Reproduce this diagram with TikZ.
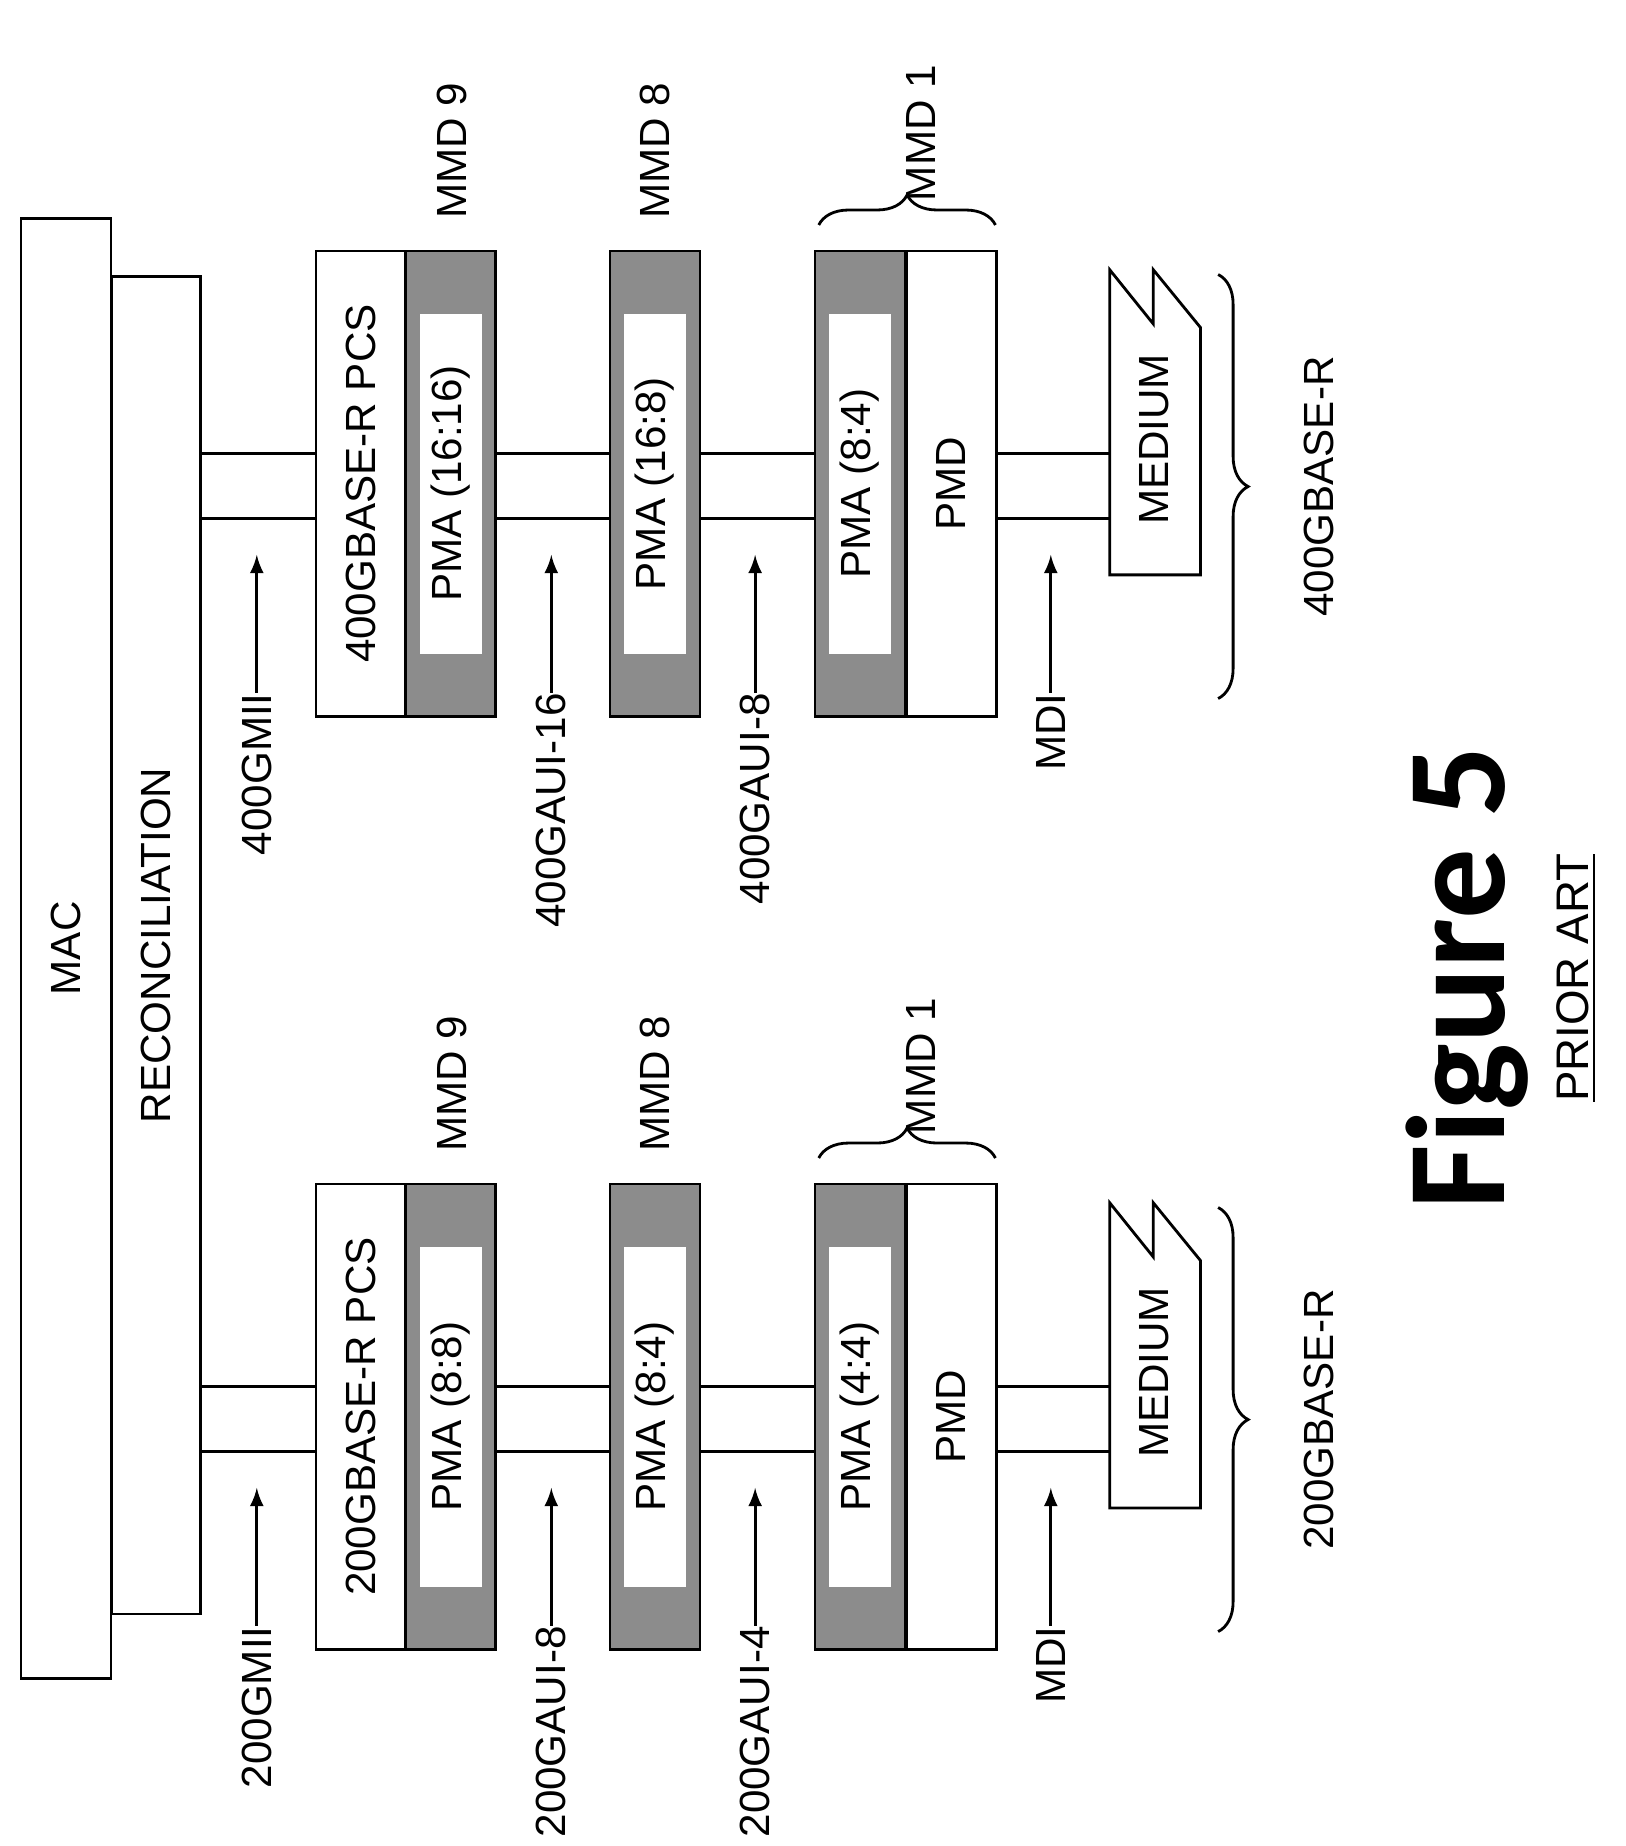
\documentclass[tikz,border=0pt]{standalone}
\usepackage{fontspec}
\setmainfont{Liberation Sans}
\newfontfamily\figfont{Carlito}
\usetikzlibrary{positioning,calc,decorations.pathreplacing}
\definecolor{pmagray}{gray}{0.55}
\tikzset{
  basic/.style  = {draw, thick, inner sep=0pt, font=\fontsize{12}{14}\selectfont},
  layer/.style  = {basic, minimum width=0.9cm, minimum height=4.65cm},
  dark/.style   = {layer, fill=pmagray},
  tag/.style    = {fill=white, inner sep=0pt, minimum width=0.62cm, minimum height=3.4cm,
                   font=\fontsize{12}{14}\selectfont},
  side/.style   = {inner sep=0pt, font=\fontsize{12}{14}\selectfont},
  bus/.style    = {thick},
  up/.style     = {thick, -latex},
  curly/.style  = {thick, decorate, decoration={brace, amplitude=0.3cm}}
}
\newcommand{\rtext}[1]{\rotatebox{90}{#1}}

\begin{document}
\begin{tikzpicture}[x=0.01178cm, y=-0.01178cm]
\useasboundingbox (0,0) rectangle (1380,1567);

% MAC and reconciliation span both stacks
\node[basic, minimum width=0.9cm, minimum height=14.6cm] (mac) at (56,805) {\rtext{MAC}};
\node[basic, minimum width=0.88cm, minimum height=13.37cm] (rec) at (132.5,802.5) {\rtext{RECONCILIATION}};

% \g = stack, \y = top of the stack boxes
\foreach \g/\y/\pcs/\pa/\pb/\pc/\ia/\ib/\ic/\rate in
  {lo/1005/200GBASE-R PCS/PMA (8:8)/PMA (8:4)/PMA (4:4)/200GMII/200GAUI-8/200GAUI-4/200GBASE-R,
   hi/213/400GBASE-R PCS/PMA (16:16)/PMA (16:8)/PMA (8:4)/400GMII/400GAUI-16/400GAUI-8/400GBASE-R}{
  \node[layer] (pcs\g)  at (306.5,\y+197.5) {\rtext{\pcs}};
  \node[dark]  (pmaa\g) at (382.5,\y+197.5) {};
  \node[tag]   at (pmaa\g) {\rtext{\pa}};
  \node[dark]  (pmab\g) at (556,\y+197.5) {};
  \node[tag]   at (pmab\g) {\rtext{\pb}};
  \node[dark]  (pmac\g) at (730,\y+197.5) {};
  \node[tag]   at (pmac\g) {\rtext{\pc}};
  \node[layer] (pmd\g)  at (807.5,\y+197.5) {\rtext{PMD}};

  % medium
  \draw[thick] (942,\y+16) -- (979,\y+62) -- (979,\y+16) -- (1019,\y+65)
     -- (1019,\y+275) coordinate (med\g) -- (942,\y+275) -- cycle;
  \node[side] at (980,\y+160) {\rtext{MEDIUM}};

  % interface labels
  \node[side, anchor=north] (ifa\g) at (218,\y+375) {\rtext{\ia}};
  \node[side, anchor=north] (ifb\g) at (468,\y+375) {\rtext{\ib}};
  \node[side, anchor=north] (ifc\g) at (641,\y+375) {\rtext{\ic}};
  \node[side, anchor=north] (ifd\g) at (892,\y+375) {\rtext{MDI}};
  \foreach \i in {a,b,c,d}
    \draw[up] (if\i\g.north) -- ++(0,-117);

  % buses
  \foreach \d in {172,227}{
    \draw[bus] (rec.east |- 0,\y+\d) -- (pcs\g.west |- 0,\y+\d);
    \draw[bus] (pmaa\g.east |- 0,\y+\d) -- (pmab\g.west |- 0,\y+\d);
    \draw[bus] (pmab\g.east |- 0,\y+\d) -- (pmac\g.west |- 0,\y+\d);
    \draw[bus] (pmd\g.east |- 0,\y+\d) -- (942,\y+\d);
  }

  % mmd labels
  \node[side] at (384,\y-85) {\rtext{MMD 9}};
  \node[side] at (556,\y-85) {\rtext{MMD 8}};
  \node[side] at (782,\y-100) {\rtext{MMD 1}};
  \draw[curly] (695,\y-22) -- (845,\y-22);

  % rate
  \draw[curly] (1034,\y+20) -- (1034,\y+380);
  \node[side] at (1120,\y+200) {\rtext{\rate}};
}

\node[inner sep=0pt, font=\figfont\bfseries\fontsize{40}{44}\selectfont] (fig) at (1245,830) {\rtext{Figure 5}};
\node[side, font=\fontsize{13}{15}\selectfont] (prior) at (1338,830) {\rtext{\underline{PRIOR ART}}};
\end{tikzpicture}
\end{document}
